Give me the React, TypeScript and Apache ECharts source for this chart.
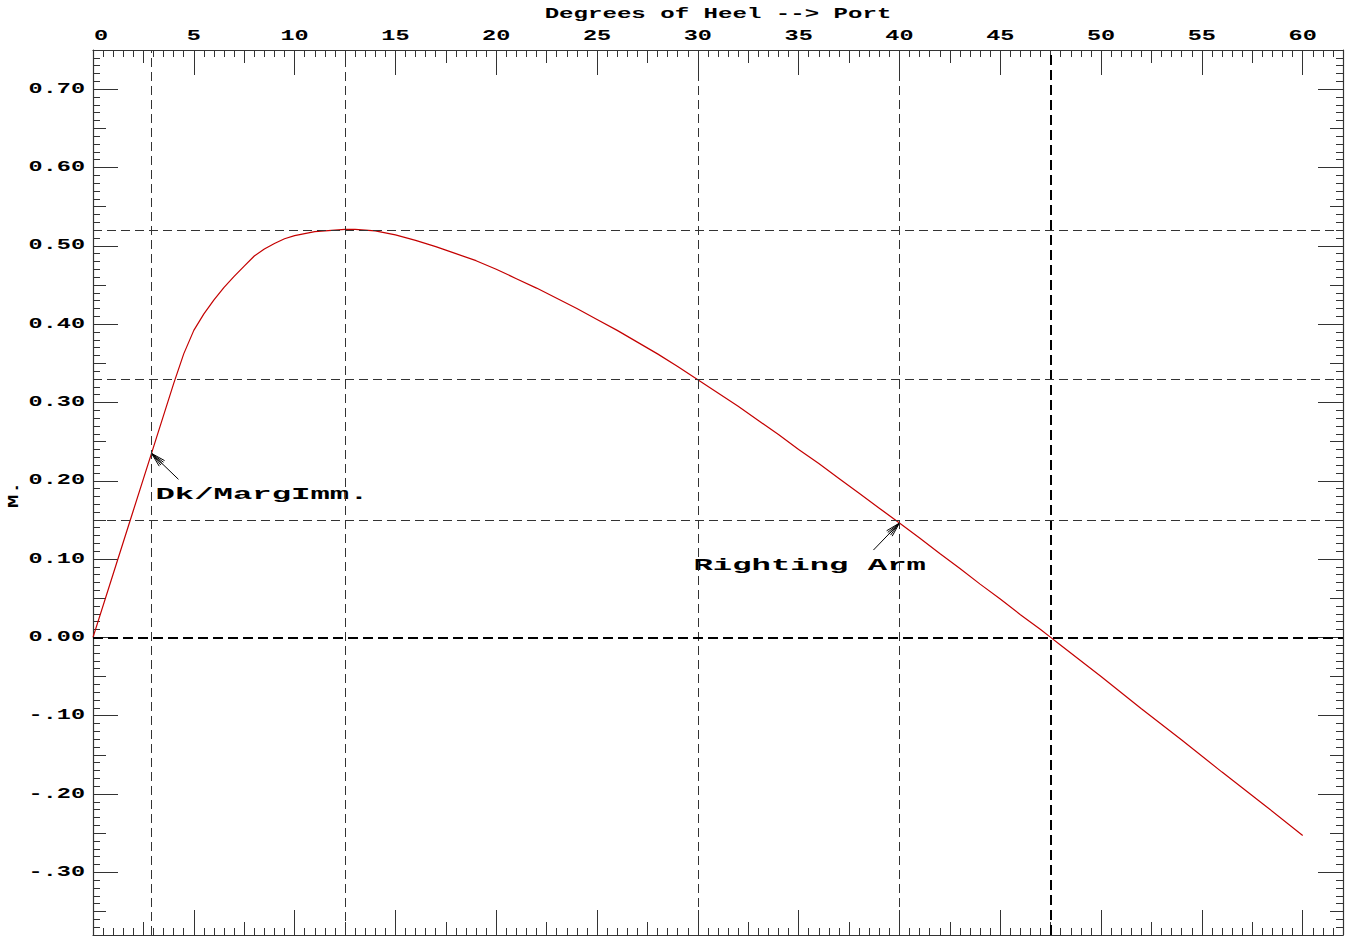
import React, { useEffect, useRef } from "react";
import * as echarts from "echarts";

// Righting-arm curve: heel angle (degrees, to port) and righting arm (m)
const HEEL_DEG = [
  0, 1, 2, 3, 4, 4.5, 5, 5.5, 6, 6.5, 7, 7.5, 8, 8.5, 9, 9.5, 10, 11, 12, 12.5,
  13, 14, 15, 16, 17, 18, 19, 20, 21, 22, 23, 24, 25, 26, 27, 28, 29, 30, 31,
  32, 33, 34, 35, 36, 37, 38, 39, 40, 41, 42, 43, 44, 45, 46, 47, 47.5, 48, 50,
  52, 54, 56, 58, 60,
];
const RIGHTING_ARM = [
  0, 0.081, 0.162, 0.243, 0.324, 0.362, 0.392, 0.413, 0.431, 0.447, 0.461,
  0.474, 0.487, 0.496, 0.503, 0.509, 0.513, 0.518, 0.520, 0.521, 0.521, 0.519,
  0.514, 0.507, 0.499, 0.490, 0.481, 0.470, 0.458, 0.446, 0.433, 0.420, 0.406,
  0.392, 0.377, 0.362, 0.346, 0.329, 0.312, 0.295, 0.277, 0.259, 0.240, 0.222,
  0.203, 0.184, 0.165, 0.146, 0.127, 0.107, 0.088, 0.068, 0.049, 0.029, 0.010,
  0, -0.010, -0.050, -0.091, -0.131, -0.172, -0.212, -0.253,
];

// Axis extents
const X_RANGE = [0, 62];
const Y_RANGE = [-0.38, 0.75];

// Labelled ticks
const X_TICKS = [0, 5, 10, 15, 20, 25, 30, 35, 40, 45, 50, 55, 60];
const X_TICK_LABELS = ["0", "5", "10", "15", "20", "25", "30", "35", "40", "45", "50", "55", "60"];
const Y_TICKS = [0.7, 0.6, 0.5, 0.4, 0.3, 0.2, 0.1, 0, -0.1, -0.2, -0.3];
const Y_TICK_LABELS = ["0.70", "0.60", "0.50", "0.40", "0.30", "0.20", "0.10", "0.00", "-.10", "-.20", "-.30"];

// Marked points on the curve
const DK_IMMERSION = { heel: 2.9, arm: 0.235, label: "Dk/MargImm." };
const MAX_ARM = { heel: 12.5, arm: 0.521 };
const ARM_AT_30 = { heel: 30, arm: 0.329 };
const RIGHTING_MARK = { heel: 40, arm: 0.146, label: "Righting Arm" };
const VANISHING_HEEL = 47.5;

const TITLE = "Degrees of Heel --> Port";
const Y_NAME = "M.";

const FONT_FAMILY = '"Liberation Mono", "DejaVu Sans Mono", monospace';
const AXIS_COLOR = "#333";

// evenly spaced tick values, counted in hundredths to stay exact
function tickValues(from: number, to: number, step: number): number[] {
  const out: number[] = [];
  const a = Math.round(from * 100);
  const b = Math.round(to * 100);
  const s = Math.round(step * 100);
  for (let v = a; v <= b; v += s) out.push(v / 100);
  return out;
}

const X_MINOR = tickValues(0, 62, 0.5);
const X_MEDIUM = tickValues(0, 60, 2.5);
const X_MAJOR = X_TICKS;
const Y_MINOR = tickValues(-0.38, 0.75, 0.01);
const Y_MEDIUM = tickValues(-0.35, 0.75, 0.05);
const Y_MAJOR = Y_TICKS;

function xAxisDef(position: "bottom" | "top", ticks: number[], len: number, showLine: boolean) {
  return {
    type: "value",
    min: X_RANGE[0],
    max: X_RANGE[1],
    position,
    offset: 0,
    axisLine: { show: showLine, onZero: false, lineStyle: { color: AXIS_COLOR, width: 1.2 } },
    axisTick: { show: true, inside: true, length: len, customValues: ticks, lineStyle: { color: AXIS_COLOR, width: 1 } },
    axisLabel: { show: false },
    splitLine: { show: false },
    minorTick: { show: false },
  };
}

function yAxisDef(position: "left" | "right", ticks: number[], len: number, showLine: boolean) {
  return {
    type: "value",
    min: Y_RANGE[0],
    max: Y_RANGE[1],
    position,
    offset: 0,
    axisLine: { show: showLine, onZero: false, lineStyle: { color: AXIS_COLOR, width: 1.2 } },
    axisTick: { show: true, inside: true, length: len, customValues: ticks, lineStyle: { color: AXIS_COLOR, width: 1 } },
    axisLabel: { show: false },
    splitLine: { show: false },
    minorTick: { show: false },
  };
}

const thinDash = { color: "#333", width: 1, type: [9, 5] };
const thickDash = { color: "#000", width: 2, type: [10, 5] };

export default function App() {
  const ref = useRef<HTMLDivElement>(null);

  useEffect(() => {
    if (!ref.current) return;
    const chart = echarts.init(ref.current, null, { renderer: "svg" });

    chart.setOption({
      animation: false,
      backgroundColor: "#fff",
      grid: { left: 93, top: 50, width: 1250, height: 885, containLabel: false },
      xAxis: [
        xAxisDef("bottom", X_MINOR, 7, true),
        xAxisDef("bottom", X_MEDIUM, 13, false),
        xAxisDef("bottom", X_MAJOR, 25, false),
        xAxisDef("top", X_MINOR, 7, true),
        xAxisDef("top", X_MEDIUM, 13, false),
        xAxisDef("top", X_MAJOR, 25, false),
      ],
      yAxis: [
        yAxisDef("left", Y_MINOR, 7, true),
        yAxisDef("left", Y_MEDIUM, 13, false),
        yAxisDef("left", Y_MAJOR, 25, false),
        yAxisDef("right", Y_MINOR, 7, true),
        yAxisDef("right", Y_MEDIUM, 13, false),
        yAxisDef("right", Y_MAJOR, 25, false),
      ],
      series: [
        {
          type: "line",
          xAxisIndex: 0,
          yAxisIndex: 0,
          data: HEEL_DEG.map((h, i) => [h, RIGHTING_ARM[i]]),
          showSymbol: false,
          symbol: "none",
          silent: true,
          lineStyle: { color: "#c40000", width: 1.2 },
          emphasis: { disabled: true },
          z: 3,
          markLine: {
            silent: true,
            symbol: ["none", "none"],
            label: { show: false },
            emphasis: { disabled: true },
            lineStyle: thinDash,
            data: [
              { xAxis: DK_IMMERSION.heel },
              { xAxis: MAX_ARM.heel },
              { xAxis: ARM_AT_30.heel },
              { xAxis: RIGHTING_MARK.heel },
              { xAxis: VANISHING_HEEL, lineStyle: thickDash },
              { yAxis: MAX_ARM.arm },
              { yAxis: ARM_AT_30.arm },
              { yAxis: RIGHTING_MARK.arm },
              { yAxis: 0, lineStyle: thickDash },
            ],
          },
        },
      ],
    });

    const px = (x: number, y: number) =>
      chart.convertToPixel({ xAxisIndex: 0, yAxisIndex: 0 }, [x, y]) as number[];

    const [left, top] = px(X_RANGE[0], Y_RANGE[1]);
    const [right, bottom] = px(X_RANGE[1], Y_RANGE[0]);

    const textEl = (
      text: string,
      x: number,
      y: number,
      size: number,
      scaleX: number,
      align: string,
      extra: Record<string, unknown> = {}
    ) => ({
      type: "text",
      x,
      y,
      scaleX,
      silent: true,
      ...extra,
      style: {
        text,
        font: `bold ${size}px ${FONT_FAMILY}`,
        fill: "#000",
        textAlign: align,
        align,
        textVerticalAlign: "middle",
        verticalAlign: "middle",
      },
    });

    const graphics: any[] = [];

    // tick labels along the top axis
    X_TICKS.forEach((v, i) => {
      const [x] = px(v, 0);
      const first = i === 0;
      graphics.push(textEl(X_TICK_LABELS[i], first ? x + 1 : x, top - 14, 14, 1.68, first ? "left" : "center"));
    });

    // tick labels along the left axis
    Y_TICKS.forEach((v, i) => {
      const [, y] = px(0, v);
      graphics.push(textEl(Y_TICK_LABELS[i], left - 8, y, 14, 1.68, "right"));
    });

    // axis titles
    graphics.push(textEl(TITLE, (left + right) / 2, top - 36, 14, 1.72, "center"));
    graphics.push(
      textEl(Y_NAME, 14, (top + bottom) / 2 + 2, 14, 1.6, "center", { rotation: Math.PI / 2 })
    );

    // arrow with a fanned head pointing at a marked point
    const arrow = (tip: number[], dx: number, dy: number) => {
      const tail = [tip[0] + dx, tip[1] + dy];
      graphics.push({
        type: "line",
        silent: true,
        shape: { x1: tail[0], y1: tail[1], x2: tip[0], y2: tip[1] },
        style: { stroke: "#000", lineWidth: 1 },
      });
      const ang = Math.atan2(dy, dx);
      [-0.26, -0.13, 0, 0.13, 0.26].forEach((d) => {
        graphics.push({
          type: "line",
          silent: true,
          shape: {
            x1: tip[0],
            y1: tip[1],
            x2: tip[0] + 15 * Math.cos(ang + d),
            y2: tip[1] + 15 * Math.sin(ang + d),
          },
          style: { stroke: "#000", lineWidth: 1 },
        });
      });
    };

    const dkTip = px(DK_IMMERSION.heel, DK_IMMERSION.arm);
    arrow(dkTip, 27, 26);
    graphics.push(textEl(DK_IMMERSION.label, dkTip[0] + 4, dkTip[1] + 41, 17, 1.9, "left"));

    const raTip = px(RIGHTING_MARK.heel, RIGHTING_MARK.arm);
    arrow(raTip, -26, 27);
    graphics.push(textEl(RIGHTING_MARK.label, raTip[0] - 206, raTip[1] + 43, 17, 1.9, "left"));

    chart.setOption({ graphic: graphics });

    return () => chart.dispose();
  }, []);

  return (
    <div
      ref={ref}
      style={{ position: "absolute", left: 0, top: 0, width: 1348, height: 938, background: "#fff" }}
    />
  );
}
